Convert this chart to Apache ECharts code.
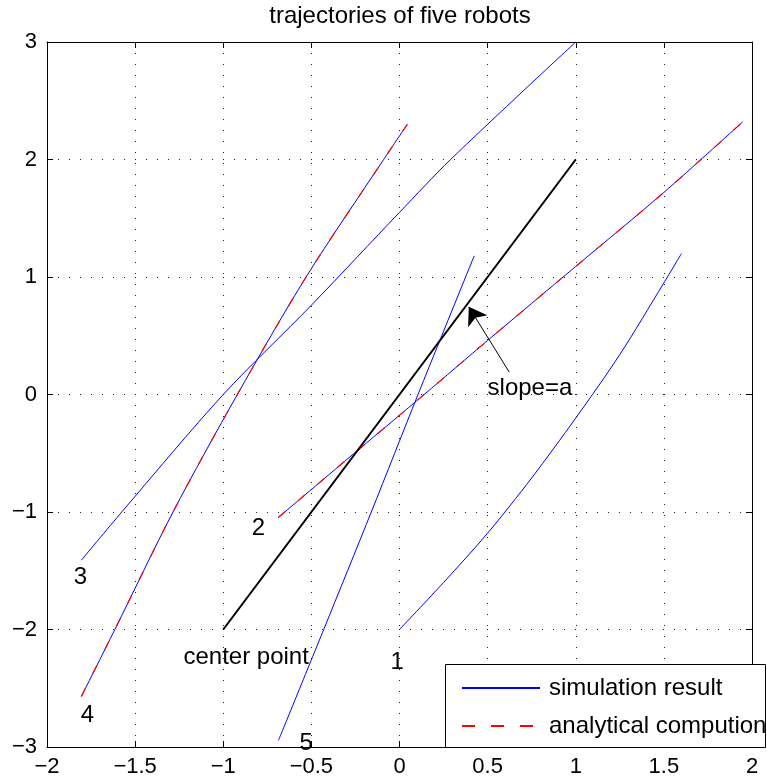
<!DOCTYPE html>
<html>
<head>
<meta charset="utf-8">
<script src="https://cdn.jsdelivr.net/npm/echarts@6/dist/echarts.min.js"></script>
<style>
  html, body { margin: 0; padding: 0; background: #fff; }
  #chart { width: 767px; height: 784px; }
</style>
</head>
<body>
<div id="chart"></div>
<script>
// Axis ticks
const xTicks = [-2, -1.5, -1, -0.5, 0, 0.5, 1, 1.5, 2];
const yTicks = [-3, -2, -1, 0, 1, 2, 3];

// Simulated trajectories of the five robots
const robot1X = [0, 0.25, 0.5, 0.75, 1.0, 1.25, 1.5, 1.6];
const robot1Y = [-2, -1.6, -1.18, -0.71, -0.2, 0.34, 0.95, 1.2];

const robot2X = [-0.688, -0.233, 0.14, 0.5, 1.0, 1.5, 1.947];
const robot2Y = [-1.047, -0.47, 0, 0.46, 1.09, 1.72, 2.32];

const robot3X = [-1.805, -1.576, -1.0, -0.5, 0, 0.29, 1.0];
const robot3Y = [-1.41, -1.0, 0, 0.76, 1.55, 2.0, 3.0];

const robot4X = [-1.805, -1.615, -1.285, -0.92, -0.53, -0.09, 0.045];
const robot4Y = [-2.57, -2.0, -1.0, 0, 1.0, 2.0, 2.3];

const robot5X = [-0.687, -0.43, -0.16, 0.105, 0.375, 0.424];
const robot5Y = [-2.945, -2.0, -1.0, 0, 1.0, 1.18];

// Analytical solutions (coincide with robots 2 and 4)
const analytic2X = robot2X, analytic2Y = robot2Y;
const analytic4X = robot4X, analytic4Y = robot4Y;

// Center trajectory with slope a
const centerX = [-1, 1];
const centerY = [-2, 2];

// Text annotations
const noteText = ['1', '2', '3', '4', '5', 'center point', 'slope=a'];
const noteX = [-0.013, -0.80, -1.81, -1.77, -0.53, -0.87, 0.74];
const noteY = [-2.28, -1.14, -1.56, -2.73, -2.97, -2.24, 0.055];

// Arrow from the note to the center line
const arrowFrom = [0.622, 0.192];
const arrowTo = [0.393, 0.746];

const zip = (xs, ys) => xs.map((x, i) => [x, ys[i]]);
const minus = v => String(v).replace('-', '\u2212');
const FONT = '"Liberation Sans", Arial, Helvetica, sans-serif';

const blueLine = (data) => ({
  type: 'line', name: 'simulation result', data,
  symbol: 'none', smooth: 0.3, z: 2,
  lineStyle: { color: '#0000ff', width: 1 },
  itemStyle: { color: '#0000ff' }
});
const redDash = (data) => ({
  type: 'line', name: 'analytical compution', data,
  symbol: 'none', smooth: 0.3, z: 3,
  lineStyle: { color: '#ff0000', width: 1.2, type: [9, 17] },
  itemStyle: { color: '#ff0000' }
});

const chart = echarts.init(document.getElementById('chart'));
const axisCommon = {
  axisLine: { show: true, onZero: false, lineStyle: { color: '#000', width: 1 } },
  axisTick: { show: true, inside: true, length: 6, lineStyle: { color: '#000' } }
};

chart.setOption({
  animation: false,
  backgroundColor: '#fff',
  grid: { left: 47, right: 15, top: 42, bottom: 37, containLabel: false },
  xAxis: [
    Object.assign({
      type: 'value', min: xTicks[0], max: xTicks[xTicks.length - 1], interval: 0.5,
      position: 'bottom',
      axisLabel: { fontSize: 22, color: '#000', fontFamily: FONT, margin: 9, formatter: minus },
      splitLine: { show: true, lineStyle: { color: '#222', width: 1, type: [1, 10] } }
    }, axisCommon),
    Object.assign({
      type: 'value', min: xTicks[0], max: xTicks[xTicks.length - 1], interval: 0.5,
      position: 'top', axisLabel: { show: false }, splitLine: { show: false }
    }, axisCommon)
  ],
  yAxis: [
    Object.assign({
      type: 'value', min: yTicks[0], max: yTicks[yTicks.length - 1], interval: 1,
      position: 'left',
      axisLabel: { fontSize: 22, color: '#000', fontFamily: FONT, margin: 10, formatter: minus },
      splitLine: { show: true, lineStyle: { color: '#222', width: 1, type: [1, 10] } }
    }, axisCommon),
    Object.assign({
      type: 'value', min: yTicks[0], max: yTicks[yTicks.length - 1], interval: 1,
      position: 'right', axisLabel: { show: false }, splitLine: { show: false }
    }, axisCommon)
  ],
  legend: {
    data: [
      { name: 'simulation result', itemStyle: { opacity: 0 } },
      { name: 'analytical compution', itemStyle: { opacity: 0 }, lineStyle: { type: [13, 16] } }
    ],
    orient: 'vertical', left: 445, top: 664,
    padding: [11, 4, 9, 16],
    itemWidth: 78, itemHeight: 14, itemGap: 12,
    textStyle: { fontSize: 24, color: '#000', fontFamily: FONT, lineHeight: 26, padding: [0, 0, 0, 4] },
    z: 5
  },
  graphic: [
    {
      type: 'text', x: 400, y: 16, z: 5,
      style: { text: 'trajectories of five robots', font: '24px ' + FONT, fill: '#000',
               textAlign: 'center', textVerticalAlign: 'middle' }
    },
    {
      type: 'rect', z: 4, shape: { x: 445.5, y: 664.5, width: 320, height: 83 },
      style: { fill: '#fff', stroke: '#000', lineWidth: 1 }
    }
  ],
  series: [
    blueLine(zip(robot1X, robot1Y)),
    blueLine(zip(robot2X, robot2Y)),
    blueLine(zip(robot3X, robot3Y)),
    blueLine(zip(robot4X, robot4Y)),
    blueLine(zip(robot5X, robot5Y)),
    redDash(zip(analytic2X, analytic2Y)),
    redDash(zip(analytic4X, analytic4Y)),
    {
      type: 'line', name: 'center', data: zip(centerX, centerY),
      symbol: 'none', z: 3, lineStyle: { color: '#000', width: 2 }
    },
    {
      type: 'lines', coordinateSystem: 'cartesian2d', z: 3,
      data: [{ coords: [arrowFrom, arrowTo] }],
      symbol: ['none', 'arrow'], symbolSize: [12, 17],
      lineStyle: { color: '#000', width: 1, opacity: 1 }
    },
    {
      type: 'scatter', name: 'notes', z: 3, silent: true,
      data: noteX.map((x, i) => ({ value: [x, noteY[i]], name: noteText[i] })),
      symbolSize: 0, itemStyle: { color: '#000', opacity: 1 },
      label: { show: true, position: 'inside', formatter: p => p.name, opacity: 1,
               fontSize: 24, color: '#000', fontFamily: FONT, textBorderWidth: 0 }
    }
  ]
});
</script>
</body>
</html>
